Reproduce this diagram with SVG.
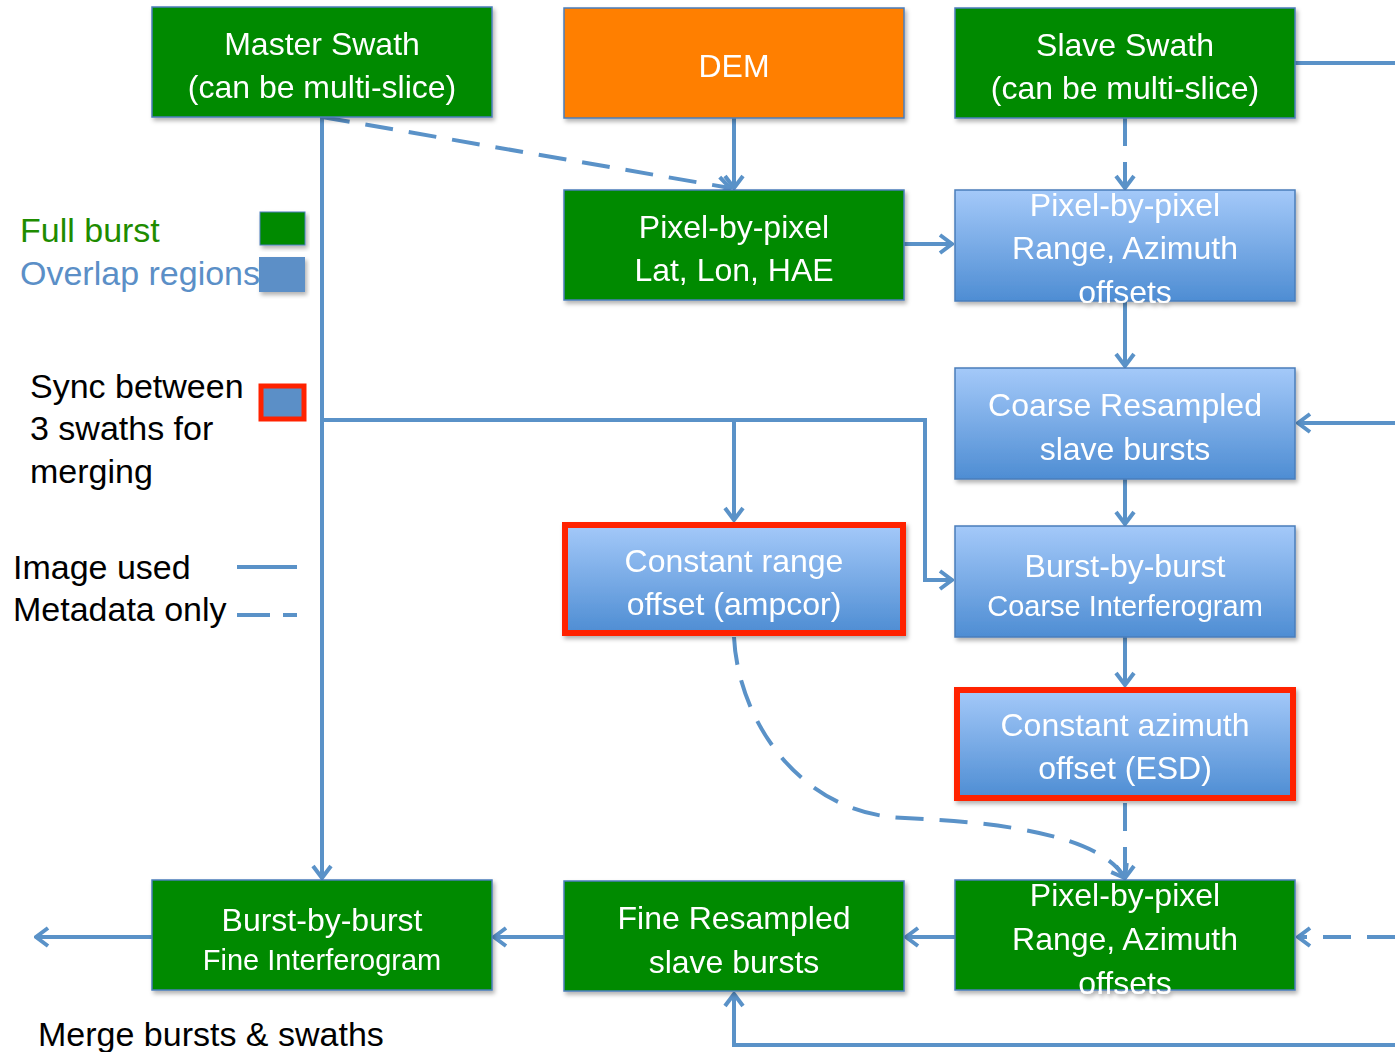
<svg xmlns="http://www.w3.org/2000/svg" width="1395" height="1052" viewBox="0 0 1395 1052">
<style>
.t{font-family:"Liberation Sans",Arial,sans-serif;fill:#fff;text-anchor:middle;font-size:32px}
.s{font-size:29px}
.lg{font-family:"Liberation Sans",Arial,sans-serif;font-size:34px;fill:#000}
.green{fill:#008A00;stroke:#4A7EBB;stroke-width:1.5}
.blue{fill:url(#bg);stroke:#4A7EBB;stroke-width:1.5}
.red{fill:url(#bg);stroke:#FF2200;stroke-width:6}
.c{fill:none;stroke:#5A92C8;stroke-width:4}
.a{marker-end:url(#ah)}
.d{stroke-dasharray:28 16}
</style>
<defs>
<linearGradient id="bg" x1="0" y1="0" x2="0" y2="1">
<stop offset="0" stop-color="#A4C9F9"/>
<stop offset="1" stop-color="#4E8DD3"/>
</linearGradient>
<filter id="sh" x="-10%" y="-10%" width="120%" height="130%">
<feDropShadow dx="2" dy="3" stdDeviation="2" flood-color="#000" flood-opacity="0.3"/>
</filter>
<marker id="ah" markerUnits="userSpaceOnUse" viewBox="-16 -12 18 24" refX="0" refY="0" markerWidth="18" markerHeight="24" orient="auto">
<path d="M-12,-9 L0,0 L-12,9" fill="none" stroke="#5A92C8" stroke-width="4" stroke-linejoin="miter"/>
</marker>
</defs>

<g id="connectors">
<path class="c a" d="M322,117 V878"/>
<path class="c a d" d="M322,117 L730,188"/>
<path class="c a" d="M734,118 V188"/>
<path class="c a" d="M904,244 H952"/>
<path class="c a d" d="M1125,118 V188"/>
<path class="c" d="M1295,63 H1395"/>
<path class="c a" d="M1125,301 V366"/>
<path class="c a" d="M1395,423 H1298"/>
<path class="c a" d="M1125,479 V524"/>
<path class="c a" d="M322,420 H925 V580 H952"/>
<path class="c a" d="M734,420 V520"/>
<path class="c a" d="M1125,637 V685"/>
<path class="c a d" d="M1125,803 V878"/>
<path class="c a d" d="M734,637 C738,720 800,815 905,818 C1000,822 1100,835 1125,878"/>
<path class="c a d" d="M1395,937 H1298"/>
<path class="c a" d="M955,937 H906"/>
<path class="c a" d="M564,937 H494"/>
<path class="c a" d="M152,937 H36"/>
<path class="c a" d="M1395,1045 H734 V994"/>
</g>

<g id="master" filter="url(#sh)">
<rect class="green" x="152" y="7" width="340" height="110"/>
<text class="t" x="322" y="55">Master Swath</text>
<text class="t" x="322" y="98">(can be multi-slice)</text>
</g>
<g id="dem" filter="url(#sh)">
<rect x="564" y="8" width="340" height="110" fill="#FF7F00" stroke="#4A7EBB" stroke-width="1.5"/>
<text class="t" x="734" y="77">DEM</text>
</g>
<g id="slave" filter="url(#sh)">
<rect class="green" x="955" y="8" width="340" height="110"/>
<text class="t" x="1125" y="56">Slave Swath</text>
<text class="t" x="1125" y="99">(can be multi-slice)</text>
</g>
<g id="latlon" filter="url(#sh)">
<rect class="green" x="564" y="190" width="340" height="110"/>
<text class="t" x="734" y="238">Pixel-by-pixel</text>
<text class="t" x="734" y="281">Lat, Lon, HAE</text>
</g>
<g id="offsets1" filter="url(#sh)">
<rect class="blue" x="955" y="190" width="340" height="111"/>
<text class="t" x="1125" y="216">Pixel-by-pixel</text>
<text class="t" x="1125" y="259">Range, Azimuth</text>
<text class="t" x="1125" y="303">offsets</text>
</g>
<g id="coarse" filter="url(#sh)">
<rect class="blue" x="955" y="368" width="340" height="111"/>
<text class="t" x="1125" y="416">Coarse Resampled</text>
<text class="t" x="1125" y="460">slave bursts</text>
</g>
<g id="ampcor" filter="url(#sh)">
<rect class="red" x="565" y="525" width="338" height="108"/>
<text class="t" x="734" y="572">Constant range</text>
<text class="t" x="734" y="615">offset (ampcor)</text>
</g>
<g id="coarseifg" filter="url(#sh)">
<rect class="blue" x="955" y="526" width="340" height="111"/>
<text class="t" x="1125" y="577">Burst-by-burst</text>
<text class="t s" x="1125" y="616">Coarse Interferogram</text>
</g>
<g id="esd" filter="url(#sh)">
<rect class="red" x="957" y="690" width="336" height="108"/>
<text class="t" x="1125" y="736">Constant azimuth</text>
<text class="t" x="1125" y="779">offset (ESD)</text>
</g>
<g id="offsets2" filter="url(#sh)">
<rect class="green" x="955" y="880" width="340" height="110"/>
<text class="t" x="1125" y="906">Pixel-by-pixel</text>
<text class="t" x="1125" y="950">Range, Azimuth</text>
<text class="t" x="1125" y="994">offsets</text>
</g>
<g id="fine" filter="url(#sh)">
<rect class="green" x="564" y="881" width="340" height="110"/>
<text class="t" x="734" y="929">Fine Resampled</text>
<text class="t" x="734" y="973">slave bursts</text>
</g>
<g id="fineifg" filter="url(#sh)">
<rect class="green" x="152" y="880" width="340" height="110"/>
<text class="t" x="322" y="931">Burst-by-burst</text>
<text class="t s" x="322" y="970">Fine Interferogram</text>
</g>

<g id="legend">
<text class="lg" x="20" y="242" style="fill:#1E8C00">Full burst</text>
<rect x="260" y="212" width="45" height="33" fill="#008A00" stroke="#4A7EBB" stroke-width="1" filter="url(#sh)"/>
<text class="lg" x="20" y="285" style="fill:#5B8FC7">Overlap regions</text>
<rect x="259" y="257" width="46" height="35" fill="#5B8FC7" filter="url(#sh)"/>
<text class="lg" x="30" y="398">Sync between</text>
<text class="lg" x="30" y="440">3 swaths for</text>
<text class="lg" x="30" y="483">merging</text>
<rect x="261" y="386" width="43" height="33" fill="#5B8FC7" stroke="#FF2200" stroke-width="5"/>
<text class="lg" x="13" y="579">Image used</text>
<path class="c" d="M237,567 H297"/>
<text class="lg" x="13" y="621">Metadata only</text>
<path class="c" d="M237,615 H270 M283,615 H297"/>
<text class="lg" x="38" y="1046">Merge bursts &amp; swaths</text>
</g>
</svg>
